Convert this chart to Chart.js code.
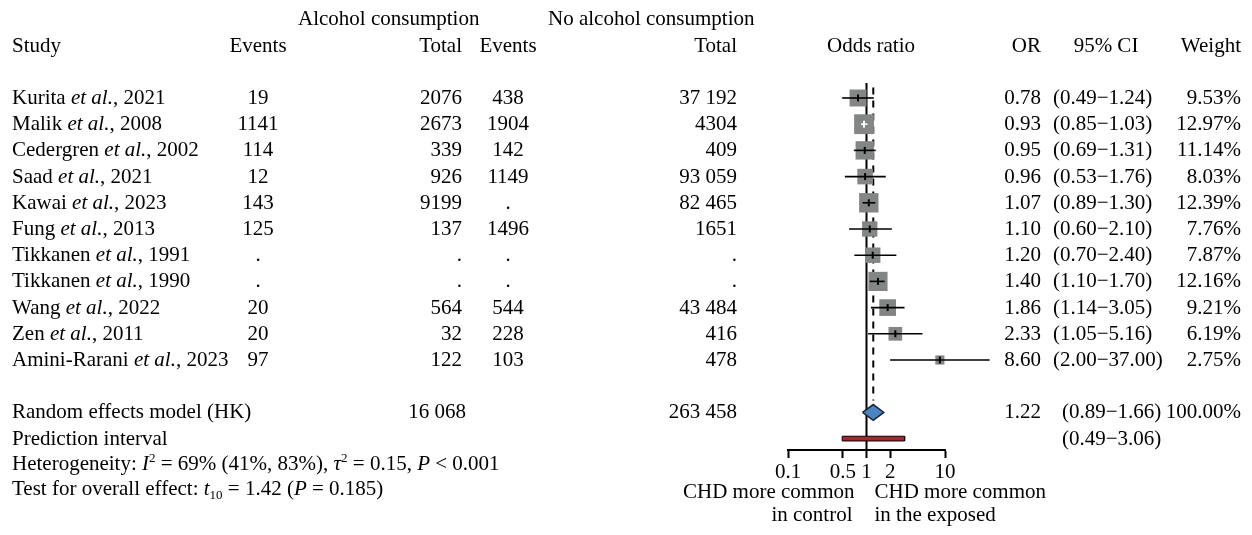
<!DOCTYPE html>
<html>
<head>
<meta charset="utf-8">
<title>Alcohol consumption and CHD</title>
<script src="https://cdn.jsdelivr.net/npm/chart.js@4.4.0/dist/chart.umd.min.js"></script>
<style>
  html, body { margin: 0; padding: 0; background: #fff; }
  #wrap { width: 1252px; height: 535px; }
</style>
</head>
<body>
<div id="wrap"><canvas id="forest" width="1252" height="535"></canvas></div>
<script>
// Study rows
const authors = ['Kurita', 'Malik', 'Cedergren', 'Saad', 'Kawai', 'Fung', 'Tikkanen', 'Tikkanen', 'Wang', 'Zen', 'Amini-Rarani'];
const years = [2021, 2008, 2002, 2021, 2023, 2013, 1991, 1990, 2022, 2011, 2023];
const eventsAlc = ['19', '1141', '114', '12', '143', '125', '.', '.', '20', '20', '97'];
const totalAlc = ['2076', '2673', '339', '926', '9199', '137', '.', '.', '564', '32', '122'];
const eventsNo = ['438', '1904', '142', '1149', '.', '1496', '.', '.', '544', '228', '103'];
const totalNo = ['37 192', '4304', '409', '93 059', '82 465', '1651', '.', '.', '43 484', '416', '478'];
const oddsRatio = [0.78, 0.93, 0.95, 0.96, 1.07, 1.10, 1.20, 1.40, 1.86, 2.33, 8.60];
const lower = [0.49, 0.85, 0.69, 0.53, 0.89, 0.60, 0.70, 1.10, 1.14, 1.05, 2.00];
const upper = [1.24, 1.03, 1.31, 1.76, 1.30, 2.10, 2.40, 1.70, 3.05, 5.16, 37.00];
const weight = [9.53, 12.97, 11.14, 8.03, 12.39, 7.76, 7.87, 12.16, 9.21, 6.19, 2.75];

// Pooled estimate (random effects, HK) and prediction interval
const pooled = { or: 1.22, lower: 0.89, upper: 1.66, totalAlc: '16 068', totalNo: '263 458' };
const predict = { lower: 0.49, upper: 3.06 };

const xTicks = [0.1, 0.5, 1, 2, 10];
const xTickLabels = ['0.1', '0.5', '1', '2', '10'];

const SERIF = '"Liberation Serif", "Times New Roman", serif';
const FONT = '21px ' + SERIF;
const n = authors.length;
const rowPooled = n + 1;
const rowPredict = n + 2;

const boxSide = w => 5.5 * Math.sqrt(w);
const fmt2 = v => v.toFixed(2);
const ciText = (lo, hi) => '(' + fmt2(lo) + '\u2212' + fmt2(hi) + ')';

// CI drawn white only when it sits well inside its square
function insideSquare(chart, i) {
  const sx = chart.scales.x;
  if (!sx || !sx.width) return false;
  const c = sx.getPixelForValue(oddsRatio[i]);
  const h = boxSide(weight[i]) / 2 * 0.5;
  return sx.getPixelForValue(lower[i]) >= c - h && sx.getPixelForValue(upper[i]) <= c + h;
}

function fontOf(p) {
  return (p.it ? 'italic ' : '') + (p.sup || p.sub ? '13px ' : '21px ') + SERIF;
}

function drawRuns(ctx, parts, x, y) {
  ctx.textAlign = 'left';
  let cx = x;
  parts.forEach(p => {
    ctx.font = fontOf(p);
    const dy = p.sup ? -8 : p.sub ? 4 : 0;
    ctx.fillText(p.t, cx, y + dy);
    cx += ctx.measureText(p.t).width;
  });
}

const tablePlugin = {
  id: 'forestTable',
  afterDraw(chart) {
    const ctx = chart.ctx;
    const sy = chart.scales.y;
    const sx = chart.scales.x;
    const base = r => sy.getPixelForValue(r) + 6;
    const put = (t, px, r, align) => {
      ctx.font = FONT;
      ctx.textAlign = align;
      ctx.fillText(t, px, base(r));
    };
    ctx.save();
    ctx.fillStyle = '#000';
    ctx.textBaseline = 'alphabetic';

    // column headers
    put('Alcohol consumption', 298, -3, 'left');
    put('No alcohol consumption', 548, -3, 'left');
    put('Study', 12, -2, 'left');
    put('Events', 258, -2, 'center');
    put('Total', 462, -2, 'right');
    put('Events', 508, -2, 'center');
    put('Total', 737, -2, 'right');
    put('Odds ratio', 871, -2, 'center');
    put('OR', 1041, -2, 'right');
    put('95% CI', 1106, -2, 'center');
    put('Weight', 1241, -2, 'right');

    // one line per study
    for (let i = 0; i < n; i++) {
      drawRuns(ctx, [{ t: authors[i] + ' ' }, { t: 'et al.', it: true }, { t: ', ' + years[i] }], 12, base(i));
      put(eventsAlc[i], 258, i, 'center');
      put(totalAlc[i], 462, i, 'right');
      put(eventsNo[i], 508, i, 'center');
      put(totalNo[i], 737, i, 'right');
      put(fmt2(oddsRatio[i]), 1041, i, 'right');
      put(ciText(lower[i], upper[i]), 1053, i, 'left');
      put(fmt2(weight[i]) + '%', 1241, i, 'right');
    }

    // pooled rows
    put('Random effects model (HK)', 12, rowPooled, 'left');
    put(pooled.totalAlc, 466, rowPooled, 'right');
    put(pooled.totalNo, 737, rowPooled, 'right');
    put(fmt2(pooled.or), 1041, rowPooled, 'right');
    put(ciText(pooled.lower, pooled.upper), 1062, rowPooled, 'left');
    put('100.00%', 1241, rowPooled, 'right');
    put('Prediction interval', 12, rowPredict, 'left');
    put(ciText(predict.lower, predict.upper), 1062, rowPredict, 'left');

    drawRuns(ctx, [
      { t: 'Heterogeneity: ' }, { t: 'I', it: true }, { t: '2', sup: true },
      { t: ' = 69% (41%, 83%), ' }, { t: '\u03c4', it: true }, { t: '2', sup: true },
      { t: ' = 0.15, ' }, { t: 'P', it: true }, { t: ' < 0.001' }
    ], 12, base(rowPredict + 1) - 1);
    drawRuns(ctx, [
      { t: 'Test for overall effect: ' }, { t: 't', it: true }, { t: '10', sub: true },
      { t: ' = 1.42 (' }, { t: 'P', it: true }, { t: ' = 0.185)' }
    ], 12, base(rowPredict + 2) - 2);

    // direction labels under the axis
    const one = sx.getPixelForValue(1);
    put('CHD more common', one - 12, 15.05, 'right');
    put('in control', one - 14, 15.9, 'right');
    put('CHD more common', one + 8, 15.05, 'left');
    put('in the exposed', one + 8, 15.9, 'left');
    ctx.restore();
  }
};

const yTop = -3.74;
const yAxis = 13.435;

const datasets = [];

// reference line at OR = 1 and dashed pooled estimate
datasets.push({
  data: [{ x: 1, y: -0.57 }, { x: 1, y: yAxis }],
  showLine: true, borderColor: '#000', borderWidth: 2, pointRadius: 0, order: 5
});
datasets.push({
  data: [{ x: pooled.or, y: -0.4 }, { x: pooled.or, y: rowPooled - 0.45 }],
  showLine: true, borderColor: '#000', borderWidth: 2, borderDash: [7, 6], pointRadius: 0, order: 4
});

// weighted squares
datasets.push({
  data: oddsRatio.map((v, i) => ({ x: v, y: i })),
  pointStyle: 'rect',
  pointRadius: c => boxSide(weight[c.dataIndex]) / Math.SQRT2,
  backgroundColor: '#838684', borderWidth: 0, order: 3
});

// confidence intervals
for (let i = 0; i < n; i++) {
  datasets.push({
    data: [{ x: lower[i], y: i }, { x: upper[i], y: i }],
    showLine: true, pointRadius: 0, borderWidth: 1.6,
    borderColor: c => insideSquare(c.chart, i) ? '#fff' : '#000',
    order: 2
  });
}

// estimate marks
datasets.push({
  data: oddsRatio.map((v, i) => ({ x: v, y: i })),
  pointStyle: 'line', rotation: 90, pointRadius: 3.5, borderWidth: 2,
  borderColor: c => insideSquare(c.chart, c.dataIndex) ? '#fff' : '#000',
  order: 1
});

// pooled diamond
datasets.push({
  data: [
    { x: pooled.lower, y: rowPooled }, { x: pooled.or, y: rowPooled - 0.3 },
    { x: pooled.upper, y: rowPooled }, { x: pooled.or, y: rowPooled + 0.3 },
    { x: pooled.lower, y: rowPooled }
  ],
  showLine: true, fill: 'shape', backgroundColor: '#4a84c2', borderColor: '#1c2636',
  borderWidth: 1.5, pointRadius: 0, tension: 0, order: 1
});

// prediction interval bar
datasets.push({
  data: [
    { x: predict.lower, y: rowPredict - 0.09 }, { x: predict.upper, y: rowPredict - 0.09 },
    { x: predict.upper, y: rowPredict + 0.09 }, { x: predict.lower, y: rowPredict + 0.09 },
    { x: predict.lower, y: rowPredict - 0.09 }
  ],
  showLine: true, fill: 'shape', backgroundColor: '#a8262a', borderColor: '#000',
  borderWidth: 1, pointRadius: 0, tension: 0, order: 1
});

datasets.forEach(d => { d.clip = false; });

new Chart(document.getElementById('forest'), {
  type: 'scatter',
  data: { datasets },
  options: {
    responsive: false,
    animation: false,
    devicePixelRatio: 1,
    layout: { autoPadding: false, padding: { left: 788, right: 307, top: 0, bottom: 0 } },
    plugins: { legend: { display: false }, tooltip: { enabled: false } },
    scales: {
      x: {
        type: 'logarithmic',
        min: 0.1,
        max: 10,
        afterBuildTicks: s => { s.ticks = xTicks.map(v => ({ value: v })); },
        afterFit: s => { s.height = 85; s.paddingLeft = 0; s.paddingRight = 0; s.paddingTop = 0; s.paddingBottom = 0; },
        ticks: {
          autoSkip: false, maxRotation: 0, padding: 2, color: '#000',
          font: { family: SERIF, size: 21 },
          callback: (v, i) => xTickLabels[i]
        },
        grid: { drawOnChartArea: false, drawTicks: true, tickLength: 8, tickColor: '#000', tickWidth: 2 },
        border: { color: '#000', width: 2 }
      },
      y: { type: 'linear', reverse: true, min: yTop, max: yAxis, display: false }
    }
  },
  plugins: [tablePlugin]
});
</script>
</body>
</html>
